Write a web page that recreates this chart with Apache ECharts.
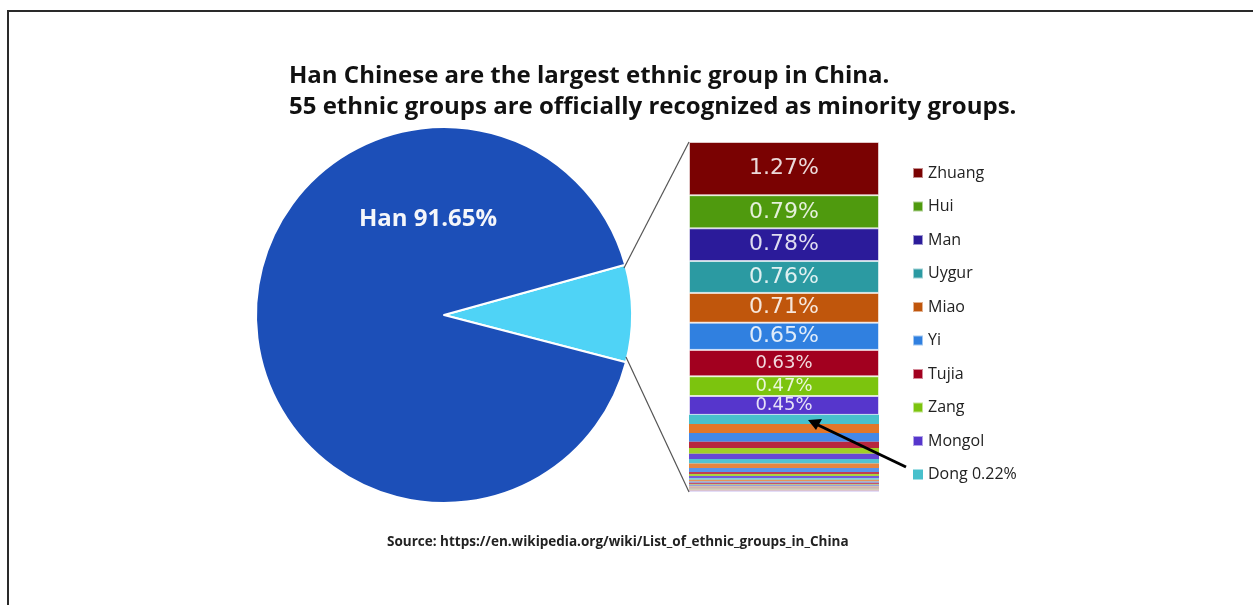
<!DOCTYPE html>
<html>
<head>
<meta charset="utf-8">
<script src="https://cdn.jsdelivr.net/npm/echarts@6/dist/echarts.min.js"></script>
<style>
  html, body { margin: 0; padding: 0; background: #fff; }
  #main { width: 1253px; height: 605px; }
</style>
</head>
<body>
<div id="main"></div>
<script>
// share of population, percent
let hanShare = 91.65;
let groups = ['Zhuang','Hui','Man','Uygur','Miao','Yi','Tujia','Zang','Mongol','Dong',
  'Buyei','Yao','Bai','Korean','Hani','Li','Kazakh','Dai','She','Lisu','Dongxiang','Gelao',
  'Lahu','Va','Sui','Nakhi','Qiang','Tu','Mulao','Xibe','Kyrgyz','Jingpo','Daur','Salar',
  'Blang','Maonan','Tajik','Pumi','Achang','Nu','Evenki','Gin','Jino','Deang','Bonan',
  'Russian','Yugur','Uzbek','Monba','Oroqen','Derung','Hezhen','Gaoshan','Lhoba','Tatar'];
let shares = [1.27,0.79,0.78,0.76,0.71,0.65,0.63,0.47,0.45,0.22,
  0.21,0.21,0.15,0.14,0.12,0.11,0.11,0.09,0.05,0.05,0.05,0.04,
  0.04,0.03,0.03,0.02,0.02,0.02,0.02,0.01,0.01,0.01,0.01,0.01,
  0.01,0.01,0.004,0.003,0.003,0.002,0.002,0.002,0.002,0.001,0.001,
  0.001,0.001,0.001,0.001,0.001,0.0005,0.0004,0.0003,0.0003,0.0003];
let legendNames = groups.slice(0, 10);
let labelled = 9;   // first 9 segments carry their value

let topColors = ['#7a0202','#4f9a0e','#2b1b9a','#2b9aa2','#c0560c','#3080e0',
  '#a2001f','#7cc40e','#5636cc','#48c0cc'];
let cycleColors = ['#e0701e','#3a82e6','#b41c34','#9ccc1c','#5e3ed2','#48bfd0'];

function mix(hex, t){
    // blend toward white
    let r = parseInt(hex.substr(1,2),16), g = parseInt(hex.substr(3,2),16), b = parseInt(hex.substr(5,2),16);
    r = Math.round(r + (255-r)*t); g = Math.round(g + (255-g)*t); b = Math.round(b + (255-b)*t);
    return 'rgb(' + r + ',' + g + ',' + b + ')';
}

function segColor(i){
    if (i < topColors.length) return topColors[i];
    let k = i - topColors.length;
    let cycle = Math.floor(k / cycleColors.length);
    return mix(cycleColors[k % cycleColors.length], Math.min(0.05 + cycle*0.1, 0.75));
}

let minorTotal = +(100 - hanShare).toFixed(2);

let dom = document.getElementById('main');
let myChart = echarts.init(dom);

let barSeries = groups.map(function(g, i){
    let big = shares[i] >= 0.65;
    return {
        name: g,
        type: 'bar',
        stack: 'minor',
        data: [shares[i]],
        barWidth: '100%',
        silent: true,
        itemStyle: {
            color: segColor(i),
            borderColor: i < labelled ? 'rgba(255,255,255,0.55)' : 'rgba(0,0,0,0)',
            borderWidth: i < labelled ? 1 : 0
        },
        label: {
            show: i < labelled,
            position: 'inside',
            formatter: shares[i].toFixed(2) + '%',
            color: mix(topColors[i] || '#ffffff', 0.85),
            fontFamily: 'DejaVu Sans',
            fontSize: big ? 22 : 18
        }
    };
});

let option = {
    animation: false,
    backgroundColor: '#fff',
    title: [{
        text: 'Han Chinese are the largest ethnic group in China.\n55 ethnic groups are officially recognized as minority groups.',
        left: 284,
        top: 56,
        textStyle: { fontFamily: 'Open Sans', fontWeight: 'bold', fontSize: 24, lineHeight: 31, color: '#111' }
    }, {
        text: 'Source: https://en.wikipedia.org/wiki/List_of_ethnic_groups_in_China',
        left: 382,
        top: 530,
        textStyle: { fontFamily: 'Open Sans', fontWeight: 'bold', fontSize: 13.5, color: '#222' }
    }],
    legend: {
        data: legendNames,
        orient: 'vertical',
        left: 907,
        top: 159,
        icon: 'rect',
        itemWidth: 10,
        itemHeight: 10,
        itemGap: 15.5,
        selectedMode: false,
        formatter: function(name){
            if (name === 'Dong') return name + ' ' + shares[9].toFixed(2) + '%';
            return name;
        },
        textStyle: { fontFamily: 'Open Sans', fontSize: 16, lineHeight: 18, color: '#222' }
    },
    grid: { left: 689, top: 142, width: 190, height: 350 },
    xAxis: { type: 'category', data: ['minority'], show: false },
    yAxis: { type: 'value', inverse: true, min: 0, max: minorTotal, show: false },
    series: [{
        type: 'pie',
        center: [444, 315],
        radius: 188,
        startAngle: 15.5,
        clockwise: true,
        silent: true,
        label: { show: false },
        labelLine: { show: false },
        itemStyle: { borderColor: '#fff', borderWidth: 2 },
        data: [
            { name: 'Minorities', value: minorTotal, itemStyle: { color: '#4fd3f6' } },
            { name: 'Han', value: hanShare, itemStyle: { color: '#1c4fb8' } }
        ]
    }].concat(barSeries),
    graphic: [
        { type: 'rect', z: 100, shape: { x: 8, y: 11, width: 1300, height: 700 }, style: { fill: null, stroke: '#2a2a2a', lineWidth: 2 } },
        { type: 'text', z: 100, x: 428, y: 219, style: { text: 'Han ' + hanShare.toFixed(2) + '%', fill: '#f4f6fa', font: 'bold 24px "Open Sans"', textAlign: 'center', textVerticalAlign: 'middle' } },
        // connector lines from the pie slice to the bar
        { type: 'line', z: 100, shape: { x1: 624, y1: 268, x2: 689, y2: 142 }, style: { stroke: '#555', lineWidth: 1.2 } },
        { type: 'line', z: 100, shape: { x1: 626, y1: 357, x2: 689, y2: 492 }, style: { stroke: '#555', lineWidth: 1.2 } },
        // arrow to the Dong segment
        { type: 'line', z: 100, shape: { x1: 906, y1: 467, x2: 818, y2: 425 }, style: { stroke: '#000', lineWidth: 3 } },
        { type: 'polygon', z: 100, shape: { points: [[808, 420], [822, 419], [816, 430]] }, style: { fill: '#000' } }
    ]
};

if (option && typeof option === "object") {
    myChart.setOption(option, true);
}
</script>
</body>
</html>
